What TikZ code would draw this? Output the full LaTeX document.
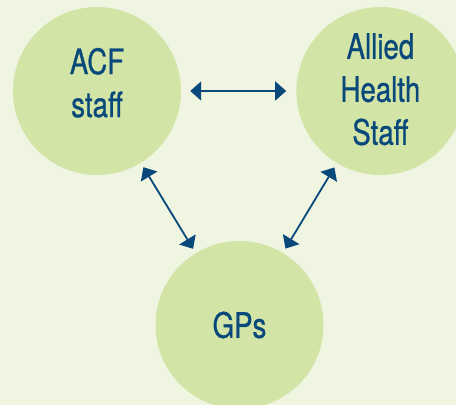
\documentclass[tikz,border=0pt]{standalone}
\usepackage{fontspec}
\setmainfont[FakeStretch=0.79, FakeBold=0.7]{TeX Gyre Heros}
\usetikzlibrary{arrows.meta, positioning}
\definecolor{fondo}{RGB}{240,245,225}
\definecolor{verde}{RGB}{210,228,166}
\definecolor{azul}{RGB}{8,72,122}
\tikzset{
	every node/.style={
		font=\fontsize{35}{43}\selectfont
	},
	grupo/.style={
		shape=circle,
		fill=verde,
		text=azul,
		minimum size=168pt,
		inner sep=0pt,
		align=center
	},
	relacion/.style={
		{Triangle[length=11pt,width=19pt]}-{Triangle[length=11pt,width=19pt]},
		draw=azul,
		line width=1.8pt
	}
}

\begin{document}
\begin{tikzpicture}[x=1pt,y=-1pt]
	\fill[fondo] (0,0) rectangle (456,405);
	\useasboundingbox (0,0) rectangle (456,405);
	\clip (0,0) rectangle (456,405);

	\node[grupo, text depth=17pt] (acf) at (97,91)   {ACF\\staff};
	\node[grupo, text depth=4pt]  (ahs) [right=115pt of acf] {Allied\\Health\\Staff};
	\node[grupo]                  (gps) at (239.5,325) {GPs};

	\path (acf) edge [relacion, shorten <=9pt, shorten >=10pt] (ahs);
	\path (acf) edge [relacion, shorten <=5pt, shorten >=5pt]  (gps);
	\path (ahs) edge [relacion, shorten <=5pt, shorten >=5pt]  (gps);

\end{tikzpicture}
\end{document}
